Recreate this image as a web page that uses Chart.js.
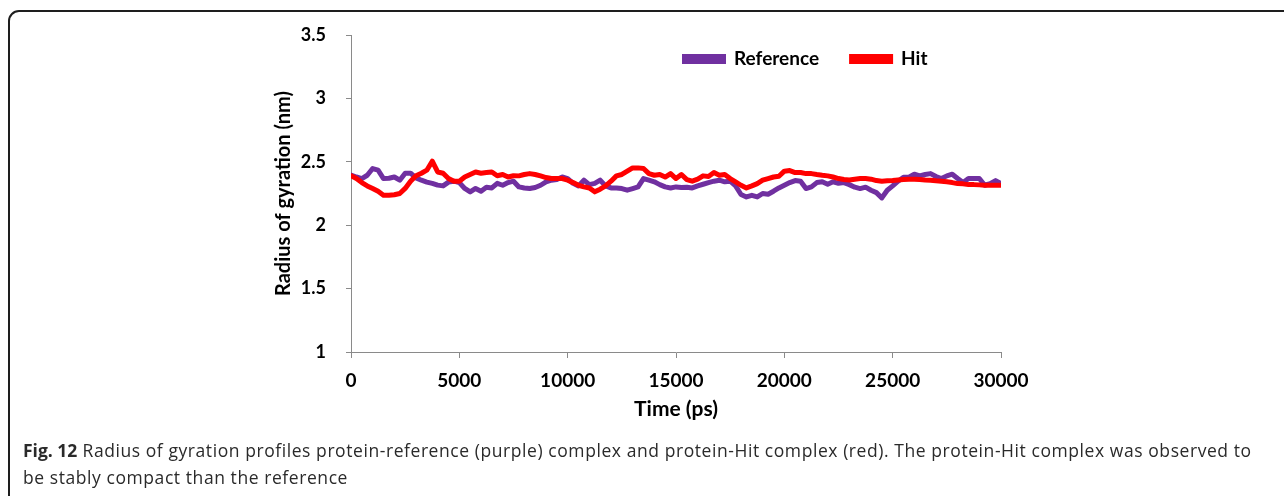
<!DOCTYPE html>
<html>
<head>
<meta charset="utf-8">
<script src="https://cdn.jsdelivr.net/npm/chart.js@4"></script>
<style>
  html, body { margin: 0; padding: 0; background: #fff; width: 1284px; height: 496px; overflow: hidden; }
  #frame { position: absolute; left: 8px; top: 10px; width: 1400px; height: 600px; border: 2px solid #1e1e1e; border-radius: 11px; box-sizing: border-box; }
  #plot { position: absolute; left: 0; top: 0; width: 1284px; height: 440px; }
  #caption { position: absolute; left: 23px; top: 437px; font-family: 'Open Sans', sans-serif; font-size: 17.5px; letter-spacing: 0.57px; line-height: 27px; color: #2a2a2a; white-space: nowrap; }
  #caption b { font-weight: 700; letter-spacing: 0; }
</style>
</head>
<body>
<div id="frame"></div>
<div id="plot"><canvas id="chart" width="1284" height="440"></canvas></div>
<div id="caption"><b>Fig. 12</b> Radius of gyration profiles protein-reference (purple) complex and protein-Hit complex (red). The protein-Hit complex was observed to<br>be stably compact than the reference</div>
<script>
// Simulation time (ps), sampled every 250 ps
const timePs = [
  0, 250, 500, 750, 1000, 1250, 1500, 1750, 2000, 2250, 2500, 2750, 3000, 3250, 3500, 3750,
  4000, 4250, 4500, 4750, 5000, 5250, 5500, 5750, 6000, 6250, 6500, 6750, 7000, 7250, 7500, 7750,
  8000, 8250, 8500, 8750, 9000, 9250, 9500, 9750, 10000, 10250, 10500, 10750, 11000, 11250, 11500, 11750,
  12000, 12250, 12500, 12750, 13000, 13250, 13500, 13750, 14000, 14250, 14500, 14750, 15000, 15250, 15500, 15750,
  16000, 16250, 16500, 16750, 17000, 17250, 17500, 17750, 18000, 18250, 18500, 18750, 19000, 19250, 19500, 19750,
  20000, 20250, 20500, 20750, 21000, 21250, 21500, 21750, 22000, 22250, 22500, 22750, 23000, 23250, 23500, 23750,
  24000, 24250, 24500, 24750, 25000, 25250, 25500, 25750, 26000, 26250, 26500, 26750, 27000, 27250, 27500, 27750,
  28000, 28250, 28500, 28750, 29000, 29250, 29500, 29750, 30000
];

// Radius of gyration (nm), protein-reference complex
const referenceRg = [
  2.395, 2.380, 2.368, 2.394, 2.447, 2.434, 2.368, 2.370, 2.380, 2.355, 2.410, 2.410, 2.373, 2.355, 2.340, 2.330,
  2.316, 2.310, 2.340, 2.347, 2.336, 2.290, 2.263, 2.290, 2.268, 2.300, 2.294, 2.330, 2.315, 2.336, 2.347, 2.302,
  2.294, 2.289, 2.297, 2.315, 2.342, 2.355, 2.360, 2.380, 2.368, 2.330, 2.310, 2.355, 2.320, 2.330, 2.355, 2.310,
  2.294, 2.294, 2.289, 2.276, 2.289, 2.302, 2.368, 2.355, 2.342, 2.320, 2.302, 2.294, 2.302, 2.297, 2.300, 2.294,
  2.310, 2.323, 2.336, 2.347, 2.355, 2.342, 2.347, 2.310, 2.242, 2.223, 2.236, 2.223, 2.250, 2.244, 2.268, 2.294,
  2.315, 2.336, 2.352, 2.347, 2.289, 2.302, 2.336, 2.342, 2.323, 2.342, 2.330, 2.336, 2.320, 2.300, 2.289, 2.300,
  2.276, 2.257, 2.215, 2.276, 2.310, 2.347, 2.378, 2.378, 2.402, 2.389, 2.400, 2.407, 2.384, 2.368, 2.389, 2.402,
  2.368, 2.336, 2.368, 2.368, 2.368, 2.315, 2.328, 2.352, 2.328
];

// Radius of gyration (nm), protein-Hit complex
const hitRg = [
  2.390, 2.368, 2.336, 2.310, 2.290, 2.268, 2.236, 2.236, 2.240, 2.250, 2.290, 2.347, 2.390, 2.410, 2.434, 2.505,
  2.420, 2.410, 2.368, 2.347, 2.347, 2.380, 2.400, 2.420, 2.410, 2.415, 2.420, 2.390, 2.400, 2.380, 2.390, 2.389,
  2.400, 2.407, 2.400, 2.389, 2.376, 2.368, 2.368, 2.368, 2.355, 2.336, 2.315, 2.302, 2.294, 2.263, 2.284, 2.310,
  2.347, 2.389, 2.400, 2.426, 2.452, 2.452, 2.447, 2.407, 2.394, 2.400, 2.380, 2.407, 2.368, 2.400, 2.360, 2.347,
  2.363, 2.389, 2.384, 2.415, 2.394, 2.400, 2.368, 2.342, 2.315, 2.294, 2.310, 2.328, 2.355, 2.368, 2.380, 2.386,
  2.426, 2.431, 2.415, 2.415, 2.407, 2.407, 2.400, 2.394, 2.389, 2.380, 2.368, 2.360, 2.357, 2.363, 2.368, 2.368,
  2.363, 2.352, 2.347, 2.350, 2.352, 2.357, 2.360, 2.363, 2.363, 2.360, 2.357, 2.355, 2.350, 2.347, 2.342, 2.336,
  2.328, 2.326, 2.320, 2.320, 2.318, 2.315, 2.315, 2.315, 2.315
];

const seriesNames = ['Reference', 'Hit'];
const seriesColors = ['#7030a0', '#ff0000'];

const xTicks = [0, 5000, 10000, 15000, 20000, 25000, 30000];
const xTickLabels = ['0', '5000', '10000', '15000', '20000', '25000', '30000'];
const yTicks = [1, 1.5, 2, 2.5, 3, 3.5];
const yTickLabels = ['1', '1.5', '2', '2.5', '3', '3.5'];

const toPoints = values => timePs.map((t, i) => ({ x: t, y: values[i] }));

const axisGray = '#8a8a8a';
const boldFont = size => ({ family: 'Lato', weight: 'bold', size });

// Legend drawn inside the plot area, near its top
const inlineLegend = {
  id: 'inlineLegend',
  afterDatasetsDraw(chart) {
    const { ctx, chartArea } = chart;
    ctx.save();
    ctx.font = 'bold 19px Lato';
    ctx.textBaseline = 'middle';
    let x = chartArea.left + 331;
    const y = chartArea.top + 24;
    chart.data.datasets.forEach(ds => {
      ctx.fillStyle = ds.borderColor;
      ctx.fillRect(x, y - 5, 44, 10);
      x += 52;
      ctx.fillStyle = '#000';
      ctx.fillText(ds.label, x, y);
      x += ctx.measureText(ds.label).width + 30;
    });
    ctx.restore();
  }
};

new Chart(document.getElementById('chart'), {
  type: 'line',
  data: {
    datasets: [
      { label: seriesNames[0], data: toPoints(referenceRg), borderColor: seriesColors[0], backgroundColor: seriesColors[0], order: 2 },
      { label: seriesNames[1], data: toPoints(hitRg), borderColor: seriesColors[1], backgroundColor: seriesColors[1], order: 1 }
    ]
  },
  options: {
    responsive: false,
    animation: false,
    devicePixelRatio: 1,
    layout: { padding: { left: 272, top: 35, right: 283, bottom: 18 } },
    elements: {
      line: { borderWidth: 5, tension: 0, borderJoinStyle: 'round', borderCapStyle: 'round' },
      point: { radius: 0, hoverRadius: 0 }
    },
    plugins: { legend: { display: false }, tooltip: { enabled: false } },
    scales: {
      x: {
        type: 'linear',
        min: 0,
        max: 30000,
        afterBuildTicks: s => { s.ticks = xTicks.map(v => ({ value: v })); },
        afterFit: s => { s.height = 70; },
        ticks: { callback: (v, i) => xTickLabels[i], font: boldFont(19), color: '#000', padding: 11, maxRotation: 0 },
        grid: { drawOnChartArea: false, drawTicks: true, tickLength: 6, color: axisGray },
        border: { color: axisGray, width: 1 },
        title: { display: true, text: 'Time (ps)', font: boldFont(21), color: '#000', padding: 0 }
      },
      y: {
        min: 1,
        max: 3.5,
        afterBuildTicks: s => { s.ticks = yTicks.map(v => ({ value: v })); },
        afterFit: s => { s.width = 79; },
        ticks: { callback: (v, i) => yTickLabels[i], font: boldFont(18), color: '#000', padding: 20 },
        grid: { drawOnChartArea: false, drawTicks: true, tickLength: 5, color: axisGray },
        border: { color: axisGray, width: 1 },
        title: { display: true, text: 'Radius of gyration (nm)', font: boldFont(20), color: '#000', padding: 0 }
      }
    }
  },
  plugins: [inlineLegend]
});
</script>
</body>
</html>
